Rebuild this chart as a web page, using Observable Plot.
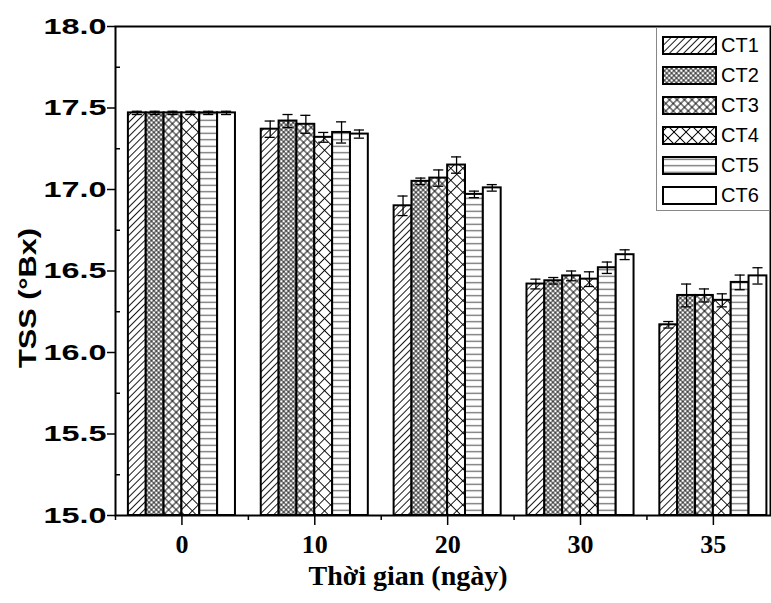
<!DOCTYPE html>
<html><head><meta charset="utf-8">
<script src="https://cdn.jsdelivr.net/npm/d3@7"></script>
<script src="https://cdn.jsdelivr.net/npm/@observablehq/plot@0.6"></script>
<style>
body{margin:0;background:#fff;}
#wrap{position:relative;width:771px;height:603px;overflow:hidden;}
#legend{position:absolute;left:656px;top:27px;width:112px;height:182px;border:1px solid #888;background:#fff;}
.row{position:absolute;left:5px;height:20px;display:flex;align-items:center;}
.row span{font:20px "Liberation Sans",Arial,sans-serif;margin-left:4px;color:#000;}
</style></head><body>
<svg width="0" height="0" style="position:absolute">
<defs>
 <pattern id="p1" patternUnits="userSpaceOnUse" width="5" height="5" patternTransform="rotate(45)">
  <rect width="5" height="5" fill="#fff"/><path d="M2.5,0V5" stroke="#000" stroke-width="0.9"/></pattern>
 <pattern id="p2" patternUnits="userSpaceOnUse" width="3.4" height="3.4" patternTransform="rotate(45)">
  <rect width="3.4" height="3.4" fill="#fff"/><path d="M1.7,0V3.4M0,1.7H3.4" stroke="#000" stroke-width="0.8"/></pattern>
 <pattern id="p3" patternUnits="userSpaceOnUse" width="5.3" height="5.3" patternTransform="rotate(45)">
  <rect width="5.3" height="5.3" fill="#fff"/><path d="M2.65,0V5.3M0,2.65H5.3" stroke="#000" stroke-width="0.9"/></pattern>
 <pattern id="p4" patternUnits="userSpaceOnUse" width="8.5" height="8.5" patternTransform="rotate(45)">
  <rect width="8.5" height="8.5" fill="#fff"/><path d="M4.25,0V8.5M0,4.25H8.5" stroke="#000" stroke-width="0.9"/></pattern>
 <pattern id="p5" patternUnits="userSpaceOnUse" width="6" height="6.5">
  <rect width="6" height="6.5" fill="#fff"/><path d="M0,3.25H6" stroke="#666" stroke-width="1.2"/></pattern>
 <pattern id="p6" patternUnits="userSpaceOnUse" width="6" height="6">
  <rect width="6" height="6" fill="#fff"/></pattern>
</defs></svg>
<div id="wrap"><div id="legend"></div></div>
<script>
const days = ["0", "10", "20", "30", "35"];
const series = ["CT1", "CT2", "CT3", "CT4", "CT5", "CT6"];
const yTicks = [15.0, 15.5, 16.0, 16.5, 17.0, 17.5, 18.0];
const yMinor = [15.25, 15.75, 16.25, 16.75, 17.25, 17.75];
const xMinor = [-0.5, 0.5, 1.5, 2.5, 3.5];
const yTitle = "TSS (°Bx)";
const xTitle = "Thời gian (ngày)";

const ct1 = [17.47, 17.37, 16.90, 16.42, 16.17];
const ct2 = [17.47, 17.42, 17.05, 16.44, 16.35];
const ct3 = [17.47, 17.40, 17.07, 16.47, 16.35];
const ct4 = [17.47, 17.32, 17.15, 16.45, 16.32];
const ct5 = [17.47, 17.35, 16.97, 16.52, 16.43];
const ct6 = [17.47, 17.34, 17.01, 16.60, 16.47];

const err1 = [0.01, 0.05, 0.06, 0.03, 0.02];
const err2 = [0.01, 0.04, 0.02, 0.02, 0.07];
const err3 = [0.01, 0.055, 0.05, 0.03, 0.04];
const err4 = [0.01, 0.03, 0.05, 0.045, 0.04];
const err5 = [0.01, 0.065, 0.02, 0.035, 0.045];
const err6 = [0.01, 0.025, 0.02, 0.03, 0.05];

const values = [ct1, ct2, ct3, ct4, ct5, ct6];
const errs = [err1, err2, err3, err4, err5, err6];

const BW = 0.1343;   // bar width, in group-step units
const CAP = 0.038;   // half cap width, in group-step units
const rows = [];
series.forEach((s, j) => values[j].forEach((v, i) => rows.push({
  s, j, i, v, e: errs[j][i],
  x1: i + (j - 3) * BW, x2: i + (j - 2) * BW, c: i + (j - 2.5) * BW
})));

const sans = '"Liberation Sans", Arial, sans-serif';
const serif = '"Liberation Serif", "Times New Roman", serif';

const barMarks = series.map((s, j) => Plot.rectY(rows.filter(d => d.j === j), {
  x1: "x1", x2: "x2", y1: 15, y2: "v",
  fill: `url(#p${j + 1})`, stroke: "#000", strokeWidth: 2
}));

const chart = Plot.plot({
  width: 771, height: 603,
  marginLeft: 115, marginRight: 1, marginTop: 26, marginBottom: 88,
  style: {background: "#fff", overflow: "visible"},
  x: {type: "linear", domain: [-0.5, 4.43], axis: null},
  y: {domain: [15, 18], axis: null},
  marks: [
    ...barMarks,
    Plot.ruleX(rows, {x: "c", y1: d => d.v - d.e, y2: d => d.v + d.e, stroke: "#000", strokeWidth: 1.3}),
    Plot.ruleY(rows, {y: d => d.v + d.e, x1: d => d.c - CAP, x2: d => d.c + CAP, stroke: "#000", strokeWidth: 1.3}),
    Plot.ruleY(rows, {y: d => d.v - d.e, x1: d => d.c - CAP, x2: d => d.c + CAP, stroke: "#000", strokeWidth: 1.3}),
    Plot.axisY({ticks: yTicks, tickFormat: d3.format(".1f"), tickSize: 8, tickPadding: 1, strokeWidth: 1.5,
      fontSize: 22, fontWeight: "bold", fontFamily: sans, fill: "#000", label: null, className: "ylab"}),
    Plot.axisY({ticks: yMinor, tickFormat: () => "", tickSize: -5, strokeWidth: 1.5, label: null}),
    Plot.axisX({ticks: [0, 1, 2, 3, 4], tickFormat: i => days[i], tickSize: 10, tickPadding: 9, strokeWidth: 1.5,
      fontSize: 26, fontWeight: "bold", fontFamily: serif, fill: "#000", label: null}),
    Plot.axisX({ticks: xMinor, tickFormat: () => "", tickSize: 5, strokeWidth: 1.5, label: null}),
    Plot.frame({stroke: "#000", strokeWidth: 2}),
    Plot.text([yTitle], {frameAnchor: "left", rotate: -90, dx: -87, dy: 27, textAnchor: "middle",
      fontSize: 24, fontWeight: "bold", fontFamily: sans, fill: "#000", className: "ytitle"}),
    Plot.text([xTitle], {frameAnchor: "bottom", dx: -35, dy: 69,
      fontSize: 28, fontWeight: "bold", fontFamily: serif, fill: "#000"})
  ]
});
const wrap = document.getElementById("wrap");
wrap.insertBefore(chart, wrap.firstChild);

// widen the bold tick labels and the y title as in the reference
chart.querySelectorAll("text").forEach(t => {
  const s = t.textContent;
  if (/^\d\d\.\d$/.test(s)) { t.setAttribute("textLength", 63); t.setAttribute("lengthAdjust", "spacingAndGlyphs"); }
  if (s === yTitle) { t.setAttribute("textLength", 140); t.setAttribute("lengthAdjust", "spacingAndGlyphs"); }
});

const legend = document.getElementById("legend");
series.forEach((s, j) => {
  const row = document.createElement("div");
  row.className = "row";
  row.style.top = (7 + j * 30) + "px";
  row.innerHTML = `<svg width="55" height="19"><rect x="1" y="1" width="53" height="17" fill="url(#p${j + 1})" stroke="#000" stroke-width="2"/></svg><span>${s}</span>`;
  legend.appendChild(row);
});
</script>
</body></html>
